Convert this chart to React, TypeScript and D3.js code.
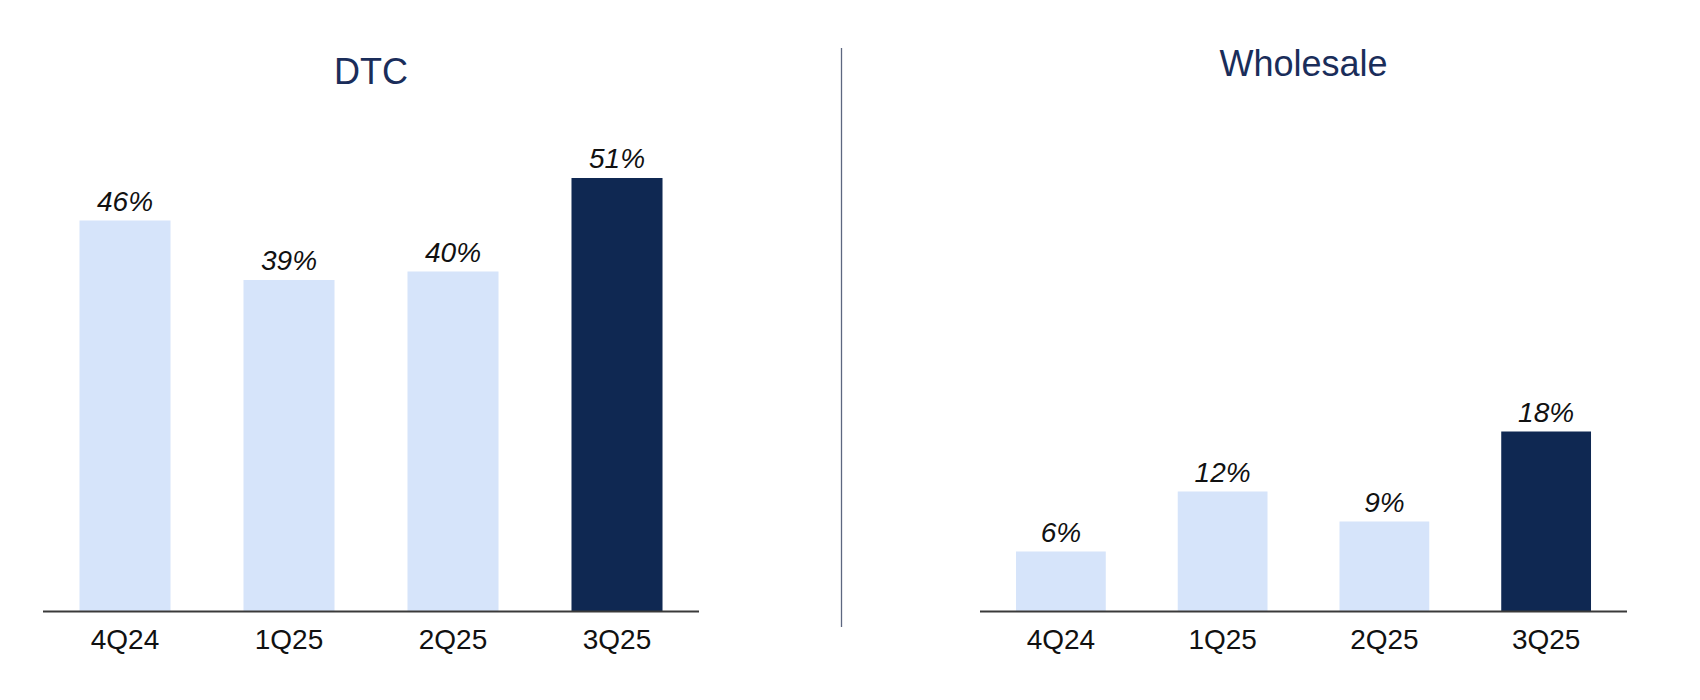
import React from "react";
import * as d3 from "d3";

const categories = ["4Q24", "1Q25", "2Q25", "3Q25"];
const dtcValues = [46, 39, 40, 51];
const wholesaleValues = [6, 12, 9, 18];
const highlightIndex = 3;

const LIGHT = "#d6e4fa";
const DARK = "#0f2852";
const TITLE = "#1a2d5a";
const FONT = "'Liberation Sans', Arial, Helvetica, sans-serif";

type PanelProps = {
  title: string;
  values: number[];
  x0: number;
  x1: number;
  yMax: number;
  titleY: number;
};

const BASE = 611.5;
const TOP = 101.5;

function Panel({ title, values, x0, x1, yMax, titleY }: PanelProps) {
  const x = d3.scaleBand<string>().domain(categories).range([x0, x1]).paddingInner(0.445).paddingOuter(0.2225);
  const y = d3.scaleLinear().domain([0, yMax]).range([BASE, TOP]);
  return (
    <g>
      <text x={(x0 + x1) / 2} y={titleY} textAnchor="middle" fontSize={36} fill={TITLE} fontFamily={FONT}>
        {title}
      </text>
      {values.map((v, i) => {
        const c = categories[i];
        const bx = x(c)!;
        return (
          <g key={c}>
            <rect x={bx} y={y(v)} width={x.bandwidth()} height={BASE - y(v)} fill={i === highlightIndex ? DARK : LIGHT} />
            <text x={bx + x.bandwidth() / 2} y={y(v) - 10} textAnchor="middle" fontSize={28} fontStyle="italic" fill="#111" fontFamily={FONT}>
              {v}%
            </text>
            <text x={bx + x.bandwidth() / 2} y={649} textAnchor="middle" fontSize={28} fill="#111" fontFamily={FONT}>
              {c}
            </text>
          </g>
        );
      })}
      <line x1={x0} x2={x1} y1={BASE} y2={BASE} stroke="#3a3a3a" strokeWidth={2} />
    </g>
  );
}

export default function App() {
  return (
    <svg width={1700} height={700} style={{ position: "absolute", left: 0, top: 0, background: "#fff" }}>
      <rect x={0} y={0} width={1700} height={700} fill="#fff" />
      <Panel title="DTC" values={dtcValues} x0={43} x1={699} yMax={60} titleY={84} />
      <Panel title="Wholesale" values={wholesaleValues} x0={980} x1={1627} yMax={51} titleY={76} />
      <line x1={841.5} x2={841.5} y1={48} y2={627} stroke="#5d6780" strokeWidth={1.3} />
    </svg>
  );
}
